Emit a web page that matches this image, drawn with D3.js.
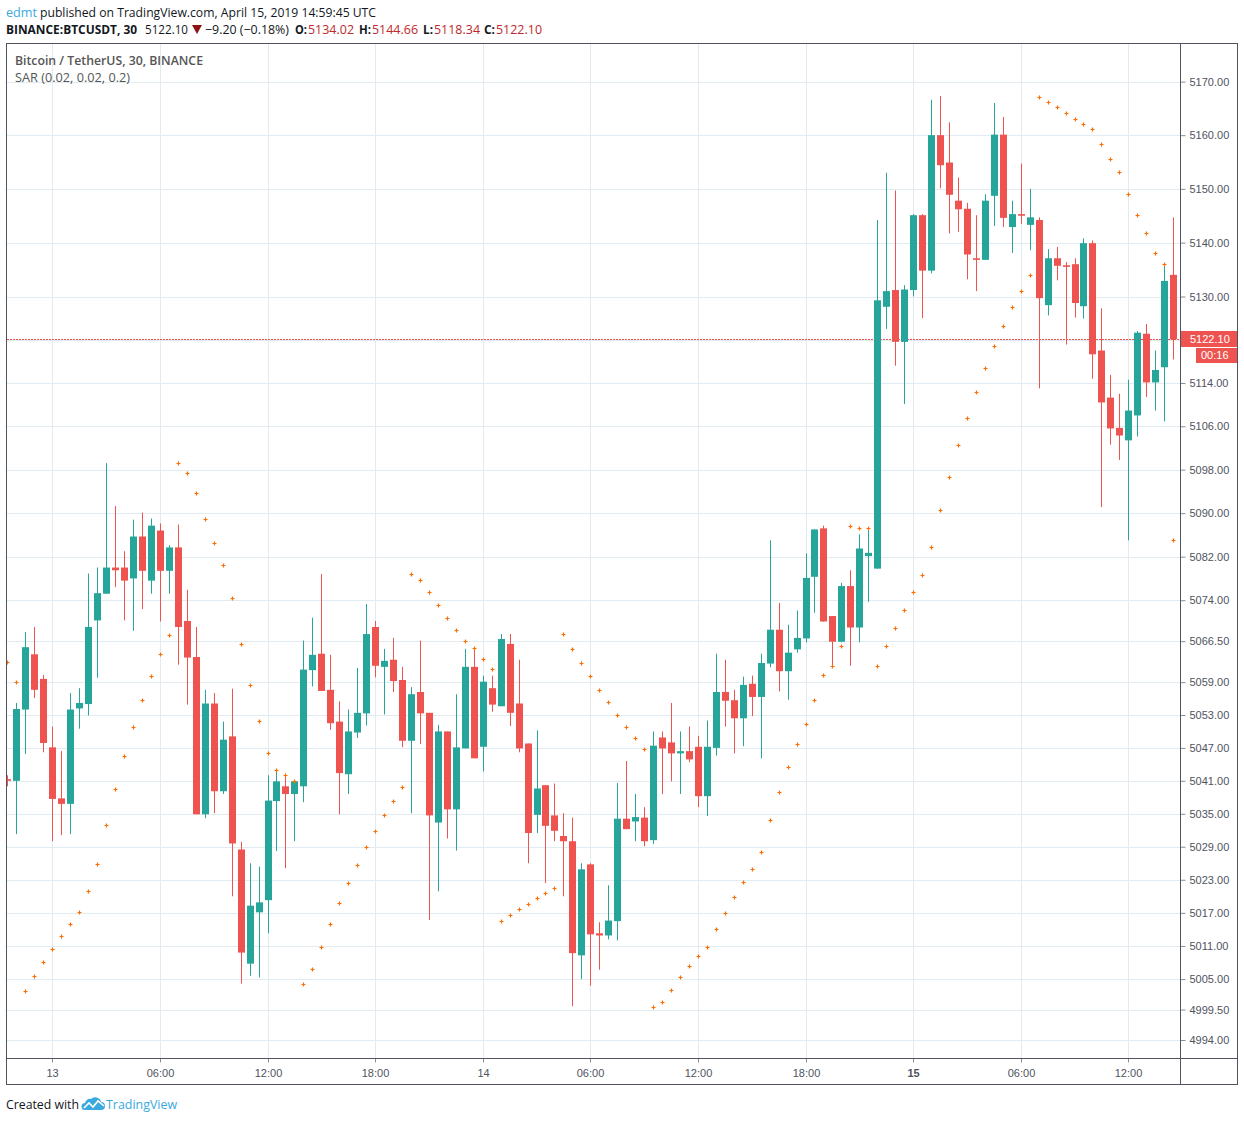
<!DOCTYPE html>
<html>
<head>
<meta charset="utf-8">
<script src="https://cdnjs.cloudflare.com/ajax/libs/d3/7.8.5/d3.min.js"></script>
<style>
  body { margin: 0; background: #fff; }
  svg { display: block; }
</style>
</head>
<body>
<svg id="chart" width="1244" height="1122"></svg>
<script>
// 30 minute bars, BINANCE:BTCUSDT, 12 Apr 21:30 .. 15 Apr 14:30 UTC
var firstBar = new Date("2019-04-12T21:30:00Z");
var lastBar = new Date("2019-04-15T14:30:00Z");

var opens = [
  5041.3, 5041.0, 5054.0, 5064.1, 5059.6, 5047.1, 5037.8, 5036.8, 5054.2, 5055.0,
  5070.3, 5075.2, 5080.0, 5080.0, 5078.0, 5085.7, 5077.6, 5086.8, 5079.4, 5083.7,
  5070.2, 5063.6, 5034.9, 5055.1, 5039.1, 5049.1, 5028.5, 5007.8, 5017.1, 5019.3,
  5037.3, 5040.0, 5038.6, 5040.0, 5061.2, 5064.2, 5057.6, 5051.8, 5042.2, 5049.8,
  5053.3, 5069.1, 5061.8, 5063.1, 5059.4, 5048.3, 5057.2, 5053.4, 5033.4, 5050.0,
  5035.8, 5046.9, 5061.8, 5047.2, 5057.9, 5054.6, 5066.0, 5055.1, 5047.8, 5034.8,
  5040.2, 5034.7, 5030.95, 5030.0, 5009.3, 5025.8, 5013.3, 5012.9, 5015.5, 5034.1,
  5033.6, 5034.3, 5030.2, 5048.9, 5048.0, 5046.0, 5046.4, 5047.2, 5038.2, 5047.0,
  5057.2, 5055.7, 5052.4, 5058.7, 5056.3, 5062.4, 5068.6, 5061.0, 5065.0, 5067.0,
  5078.3, 5087.2, 5071.1, 5066.4, 5076.6, 5069.0, 5082.1, 5079.8, 5128.1, 5131.2,
  5121.6, 5131.2, 5145.1, 5134.8, 5160.0, 5154.9, 5147.8, 5146.3, 5137.1, 5136.8,
  5148.7, 5160.1, 5142.9, 5145.3, 5143.3, 5144.2, 5128.4, 5137.1, 5135.8, 5136.0,
  5128.2, 5139.9, 5120.0, 5111.3, 5105.7, 5103.4, 5108.0, 5123.1, 5114.1, 5116.9,
  5134.02
];
var highs = [
  5042.0, 5055.2, 5068.2, 5069.1, 5060.3, 5050.9, 5046.4, 5057.0, 5057.9, 5078.9,
  5080.0, 5099.2, 5091.3, 5083.0, 5088.8, 5090.1, 5089.0, 5088.1, 5084.1, 5087.9,
  5075.9, 5069.1, 5057.6, 5057.0, 5051.8, 5057.8, 5029.9, 5026.0, 5025.4, 5042.0,
  5042.9, 5042.0, 5040.9, 5066.6, 5070.8, 5078.8, 5064.0, 5055.5, 5054.0, 5061.6,
  5073.3, 5070.2, 5065.1, 5067.1, 5061.8, 5058.1, 5066.6, 5053.4, 5051.2, 5050.0,
  5056.8, 5065.1, 5065.3, 5060.2, 5060.2, 5067.8, 5067.8, 5063.1, 5047.8, 5050.2,
  5040.2, 5040.5, 5035.1, 5034.3, 5026.0, 5026.0, 5015.3, 5022.0, 5040.6, 5044.6,
  5038.6, 5036.2, 5050.0, 5050.0, 5055.2, 5050.0, 5050.9, 5049.2, 5052.0, 5064.2,
  5063.1, 5057.6, 5060.0, 5060.2, 5064.2, 5085.0, 5073.5, 5069.5, 5072.1, 5082.6,
  5087.0, 5087.7, 5071.1, 5077.2, 5079.5, 5086.1, 5087.0, 5144.2, 5153.0, 5149.7,
  5132.1, 5145.3, 5145.3, 5166.6, 5167.3, 5162.4, 5152.1, 5147.4, 5145.1, 5149.0,
  5166.0, 5163.4, 5147.8, 5154.7, 5150.0, 5144.7, 5138.8, 5139.2, 5136.4, 5137.1,
  5140.8, 5140.4, 5127.8, 5115.5, 5112.0, 5114.6, 5123.6, 5124.9, 5120.0, 5136.1,
  5144.66
];
var lows = [
  5040.0, 5031.3, 5045.9, 5056.1, 5046.2, 5030.0, 5031.1, 5031.3, 5050.5, 5052.9,
  5059.8, 5075.2, 5076.4, 5070.3, 5068.4, 5072.4, 5075.2, 5070.1, 5075.2, 5062.2,
  5054.9, 5034.9, 5034.2, 5035.1, 5038.6, 5020.0, 5004.2, 5005.6, 5005.3, 5013.3,
  5028.2, 5025.1, 5030.0, 5037.1, 5058.2, 5057.4, 5050.3, 5034.9, 5038.6, 5048.8,
  5051.1, 5059.9, 5053.1, 5057.2, 5047.1, 5035.1, 5047.7, 5015.7, 5020.9, 5030.5,
  5028.3, 5046.9, 5045.1, 5042.7, 5053.6, 5054.6, 5051.0, 5046.2, 5026.0, 5031.5,
  5022.4, 5030.0, 5020.0, 5000.1, 5005.0, 5003.8, 5006.7, 5012.2, 5012.0, 5032.2,
  5030.0, 5029.1, 5029.5, 5038.6, 5040.9, 5038.6, 5044.4, 5036.2, 5034.6, 5045.6,
  5050.9, 5046.0, 5047.3, 5052.8, 5045.1, 5061.7, 5057.3, 5055.8, 5064.4, 5066.3,
  5071.7, 5070.1, 5062.0, 5066.3, 5062.0, 5066.3, 5073.7, 5079.8, 5124.0, 5117.2,
  5110.1, 5130.0, 5126.0, 5134.3, 5150.1, 5141.7, 5142.0, 5133.2, 5131.0, 5136.8,
  5143.1, 5142.9, 5138.1, 5143.5, 5138.6, 5113.0, 5126.5, 5133.0, 5121.1, 5126.1,
  5125.9, 5114.8, 5091.1, 5102.6, 5099.8, 5085.0, 5104.1, 5111.4, 5108.9, 5106.9,
  5118.34
];
var closes = [
  5041.0, 5054.1, 5065.4, 5057.6, 5047.9, 5037.7, 5036.8, 5054.0, 5055.2, 5069.1,
  5075.3, 5080.0, 5079.5, 5077.6, 5085.7, 5079.4, 5087.7, 5079.4, 5083.7, 5069.1,
  5063.5, 5034.9, 5055.1, 5039.1, 5048.5, 5029.6, 5009.8, 5018.3, 5018.9, 5037.4,
  5040.9, 5038.6, 5040.9, 5061.3, 5064.0, 5057.4, 5051.5, 5042.4, 5050.0, 5053.4,
  5067.8, 5062.0, 5062.9, 5059.2, 5048.3, 5056.8, 5053.3, 5034.7, 5050.0, 5035.8,
  5047.1, 5061.8, 5045.1, 5059.1, 5054.9, 5066.9, 5053.4, 5046.9, 5031.5, 5039.6,
  5032.8, 5031.9, 5030.0, 5009.7, 5024.9, 5013.1, 5012.9, 5015.6, 5034.1, 5032.2,
  5034.4, 5030.0, 5047.4, 5046.9, 5046.0, 5046.4, 5044.9, 5038.2, 5047.2, 5057.2,
  5055.6, 5052.4, 5058.5, 5056.3, 5062.5, 5068.6, 5061.0, 5064.4, 5067.1, 5078.1,
  5087.0, 5070.1, 5066.4, 5076.6, 5069.0, 5083.5, 5082.7, 5129.3, 5131.0, 5121.6,
  5131.3, 5145.1, 5134.8, 5160.0, 5154.4, 5148.9, 5146.2, 5137.8, 5136.8, 5147.8,
  5160.1, 5144.6, 5145.3, 5145.0, 5144.7, 5129.7, 5137.1, 5135.7, 5135.5, 5128.8,
  5139.9, 5119.3, 5110.4, 5105.6, 5104.3, 5108.9, 5123.3, 5114.1, 5116.4, 5132.9,
  5122.10
];
// Parabolic SAR (0.02, 0.02, 0.2), one dot per bar
var sar = [
  5062.7, 5059.0, 5002.9, 5005.5, 5008.1, 5010.5, 5012.8, 5015.0, 5017.2, 5021.0,
  5025.8, 5033.0, 5039.5, 5045.5, 5050.8, 5055.8, 5060.1, 5064.1, 5067.6, 5099.2,
  5097.4, 5093.7, 5088.9, 5084.5, 5080.4, 5074.4, 5066.0, 5058.4, 5051.9, 5046.1,
  5042.9, 5042.0, 5040.9, 5004.1, 5006.8, 5010.9, 5015.0, 5018.8, 5022.5, 5025.7,
  5028.9, 5031.9, 5034.8, 5037.4, 5039.9, 5078.8, 5077.8, 5075.5, 5073.1, 5070.7,
  5068.5, 5066.5, 5065.3, 5063.2, 5061.4, 5015.6, 5016.6, 5017.7, 5018.6, 5019.7,
  5020.6, 5021.5, 5067.8, 5065.0, 5062.5, 5060.1, 5057.5, 5055.3, 5053.0, 5050.8,
  5048.8, 5046.8, 4999.9, 5000.9, 5003.1, 5005.4, 5007.3, 5009.1, 5010.8, 5014.1,
  5017.0, 5019.9, 5022.6, 5025.0, 5028.1, 5033.9, 5039.0, 5043.5, 5047.7, 5051.4,
  5055.8, 5060.3, 5062.0, 5065.7, 5087.6, 5087.3, 5087.2, 5062.0, 5065.6, 5069.0,
  5072.3, 5075.6, 5078.7, 5083.8, 5090.6, 5096.7, 5102.5, 5107.6, 5112.4, 5116.8,
  5120.8, 5124.6, 5128.0, 5131.1, 5134.0, 5167.2, 5166.1, 5165.2, 5164.1, 5163.1,
  5162.0, 5161.1, 5158.3, 5155.6, 5153.2, 5149.1, 5145.2, 5141.7, 5138.1, 5136.1,
  5085.0
];

var lastPrice = 5122.10;
var priceTicks = [5170, 5160, 5150, 5140, 5130, 5122, 5114, 5106, 5098, 5090, 5082, 5074,
  5066.5, 5059, 5053, 5047, 5041, 5035, 5029, 5023, 5017, 5011, 5005, 4999.5, 4994];
var timeTickDates = ["2019-04-13T00:00Z", "2019-04-13T06:00Z", "2019-04-13T12:00Z", "2019-04-13T18:00Z",
  "2019-04-14T00:00Z", "2019-04-14T06:00Z", "2019-04-14T12:00Z", "2019-04-14T18:00Z",
  "2019-04-15T00:00Z", "2019-04-15T06:00Z", "2019-04-15T12:00Z"];
var timeTickLabels = ["13", "06:00", "12:00", "18:00", "14", "06:00", "12:00", "18:00", "15", "06:00", "12:00"];

var upColor = "#26a69a";
var downColor = "#ef5350";
var gridColor = "#e1ecf2";
var axisText = "#50535e";
var headRed = "#c0282d";
var tvBlue = "#3aa9e0";
var fmt = d3.format(".2f");

var svg = d3.select("#chart");
var plot = {left: 7, top: 44, right: 1180, bottom: 1058};

var times = d3.utcMinute.every(30).range(firstBar, new Date(+lastBar + 1));
var bars = times.map(function (t, i) {
  return {t: t, o: opens[i], h: highs[i], l: lows[i], c: closes[i], s: sar[i]};
});

var x = d3.scaleUtc()
  .domain([new Date(timeTickDates[0]), new Date(timeTickDates[timeTickDates.length - 1])])
  .range([52.3, 1128.3]);
var y = d3.scaleLog().domain([4994, 5170]).range([1040, 81.6]);

var px = function (t) { return Math.round(x(t)); };

// one piece of fixed-width header text
var headText = function (parent, x0, y0, width, str, color, weight, size) {
  return parent.append("text")
    .attr("x", x0).attr("y", y0)
    .attr("textLength", width).attr("lengthAdjust", "spacingAndGlyphs")
    .style("font", (weight || "normal") + " " + (size || 13) + "px 'Open Sans', sans-serif")
    .attr("fill", color || "#131722")
    .text(str);
};

svg.append("defs").append("clipPath").attr("id", "plot-clip")
  .append("rect")
    .attr("x", plot.left).attr("y", plot.top)
    .attr("width", plot.right - plot.left).attr("height", plot.bottom - plot.top);

// grid
var grid = svg.append("g").attr("stroke", gridColor).attr("stroke-width", 1);
grid.selectAll("line.h")
  .data(priceTicks)
  .enter().append("line")
    .attr("x1", plot.left).attr("x2", plot.right)
    .attr("y1", function (d) { return Math.round(y(d)) + 0.5; })
    .attr("y2", function (d) { return Math.round(y(d)) + 0.5; });
grid.selectAll("line.v")
  .data(timeTickDates)
  .enter().append("line")
    .attr("x1", function (d) { return px(new Date(d)) + 0.5; })
    .attr("x2", function (d) { return px(new Date(d)) + 0.5; })
    .attr("y1", plot.top).attr("y2", plot.bottom);

// legend texts in the pane
svg.append("text")
  .attr("x", 15).attr("y", 65)
  .attr("textLength", 188).attr("lengthAdjust", "spacingAndGlyphs")
  .style("font", "600 12px 'Open Sans', sans-serif")
  .attr("fill", "#555")
  .text("Bitcoin / TetherUS, 30, BINANCE");
svg.append("text")
  .attr("x", 15).attr("y", 82)
  .attr("textLength", 115).attr("lengthAdjust", "spacingAndGlyphs")
  .style("font", "12px 'Open Sans', sans-serif")
  .attr("fill", "#555")
  .text("SAR (0.02, 0.02, 0.2)");

var pane = svg.append("g").attr("clip-path", "url(#plot-clip)");

// last price line
pane.append("line")
  .attr("x1", plot.left).attr("x2", plot.right)
  .attr("y1", Math.round(y(lastPrice)) + 0.5).attr("y2", Math.round(y(lastPrice)) + 0.5)
  .attr("stroke", downColor).attr("stroke-width", 1)
  .attr("stroke-dasharray", "2,1");

var candle = pane.selectAll("g.bar")
  .data(bars)
  .enter().append("g")
    .attr("class", "bar")
    .attr("fill", function (d) { return d.c >= d.o ? upColor : downColor; })
    .attr("stroke", function (d) { return d.c >= d.o ? upColor : downColor; });

candle.append("line")
  .attr("x1", function (d) { return px(d.t) + 0.5; })
  .attr("x2", function (d) { return px(d.t) + 0.5; })
  .attr("y1", function (d) { return y(d.h); })
  .attr("y2", function (d) { return y(d.l); })
  .attr("stroke-width", 1);

candle.append("rect")
  .attr("x", function (d) { return px(d.t) - 3; })
  .attr("width", 7)
  .attr("y", function (d) { return y(Math.max(d.o, d.c)); })
  .attr("height", function (d) { return Math.max(1, Math.abs(y(d.o) - y(d.c))); })
  .attr("stroke", "none");

// SAR crosses
pane.selectAll("path.sar")
  .data(bars)
  .enter().append("path")
    .attr("d", function (d) {
      var cx = px(d.t) + 0.5, cy = Math.round(y(d.s)) + 0.5;
      return "M" + (cx - 2) + "," + cy + "h4M" + cx + "," + (cy - 2) + "v4";
    })
    .attr("stroke", "#ff6d00")
    .attr("stroke-width", 1.2)
    .attr("fill", "none");

// price axis
var yAxis = svg.append("g")
  .attr("transform", "translate(" + (plot.right + 0.5) + ",0)")
  .call(d3.axisRight(y)
    .tickValues(priceTicks.filter(function (d) { return d !== 5122; }))
    .tickFormat(fmt)
    .tickSize(5)
    .tickPadding(4));
yAxis.select(".domain").remove();
yAxis.selectAll(".tick line").attr("stroke", "#8a8e99");
yAxis.selectAll(".tick text")
  .attr("fill", axisText)
  .style("font", "11px 'Liberation Sans', Arial, sans-serif");

// time axis
var xAxis = svg.append("g")
  .attr("transform", "translate(0," + (plot.bottom + 0.5) + ")")
  .call(d3.axisBottom(x)
    .tickValues(timeTickDates.map(function (d) { return new Date(d); }))
    .tickFormat(function (d, i) { return timeTickLabels[i]; })
    .tickSize(4)
    .tickPadding(7));
xAxis.select(".domain").remove();
xAxis.selectAll(".tick").attr("transform", function (d) { return "translate(" + (px(d) + 0.5) + ",0)"; });
xAxis.selectAll(".tick line").attr("stroke", "#8a8e99");
xAxis.selectAll(".tick text")
  .attr("fill", axisText)
  .style("font", "11px 'Liberation Sans', Arial, sans-serif")
  .style("font-weight", function (d, i) { return timeTickLabels[i] === "15" ? "bold" : "normal"; });

// frame
var frame = svg.append("g").attr("stroke", "#50535e").attr("stroke-width", 1).attr("fill", "none");
frame.append("rect").attr("x", 6.5).attr("y", 43.5).attr("width", 1231).attr("height", 1041);
frame.append("line").attr("x1", plot.right + 0.5).attr("x2", plot.right + 0.5).attr("y1", 43.5).attr("y2", 1084.5);
frame.append("line").attr("x1", 6.5).attr("x2", 1237.5).attr("y1", plot.bottom + 0.5).attr("y2", plot.bottom + 0.5);

// last price label + countdown
var ly = Math.round(y(lastPrice));
svg.append("rect").attr("x", 1181).attr("y", ly - 8).attr("width", 56).attr("height", 16).attr("fill", downColor);
svg.append("text").attr("x", 1190).attr("y", ly + 4)
  .attr("fill", "#fff").style("font", "11px 'Liberation Sans', Arial, sans-serif")
  .text(fmt(lastPrice));
svg.append("rect").attr("x", 1196).attr("y", ly + 9).attr("width", 41).attr("height", 15).attr("fill", downColor);
svg.append("text").attr("x", 1201).attr("y", ly + 20)
  .attr("fill", "#fff").style("font", "11px 'Liberation Sans', Arial, sans-serif")
  .text("00:16");

// header, line 1
var head = svg.append("g");
headText(head, 6, 17, 31, "edmt", tvBlue);
headText(head, 40, 17, 336, "published on TradingView.com, April 15, 2019 14:59:45 UTC");

// header, line 2
headText(head, 6, 34, 131, "BINANCE:BTCUSDT, 30", null, "bold", 11.5);
headText(head, 145, 34, 43, fmt(lastPrice));
head.append("path").attr("d", "M192,25 L202,25 L197,34 Z").attr("fill", "#8b1414");
headText(head, 205, 34, 84, "\u22129.20 (\u22120.18%)");
var ohlcLabels = ["O:", "H:", "L:", "C:"];
var ohlcValues = [opens[opens.length - 1], highs[highs.length - 1], lows[lows.length - 1], closes[closes.length - 1]];
var ohlcLabelX = [295, 359, 423, 484];
var ohlcLabelW = [12, 12, 10, 11];
ohlcLabels.forEach(function (lab, i) {
  headText(head, ohlcLabelX[i], 34, ohlcLabelW[i], lab, null, "bold");
  headText(head, ohlcLabelX[i] + ohlcLabelW[i] + 1, 34, 46, fmt(ohlcValues[i]), headRed);
});

// footer
svg.append("text")
  .attr("x", 6).attr("y", 1109)
  .attr("textLength", 73).attr("lengthAdjust", "spacingAndGlyphs")
  .style("font", "13px 'Open Sans', sans-serif")
  .attr("fill", "#131722")
  .text("Created with");
var logo = svg.append("g").attr("transform", "translate(82,1096)");
logo.append("path")
  .attr("d", "M3,14 H19 A4,4 0 0 0 19,6 A6,6 0 0 0 9,3 A5,5 0 0 0 3,7 A3.5,3.5 0 0 0 3,14 Z")
  .attr("fill", tvBlue);
logo.append("path")
  .attr("d", "M2,12 L7,7 L11,11 L16,5 L22,10")
  .attr("stroke", "#fff").attr("stroke-width", 1.6).attr("fill", "none");
svg.append("text")
  .attr("x", 106).attr("y", 1109)
  .attr("textLength", 71).attr("lengthAdjust", "spacingAndGlyphs")
  .style("font", "13px 'Open Sans', sans-serif")
  .attr("fill", tvBlue)
  .text("TradingView");
</script>
</body>
</html>
